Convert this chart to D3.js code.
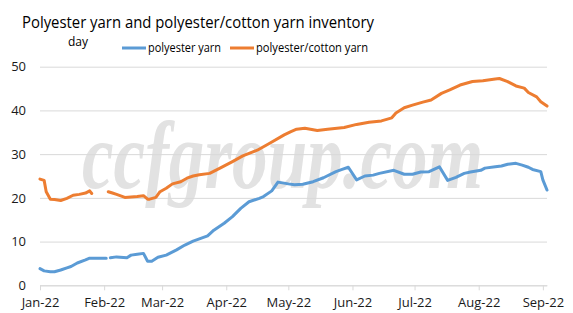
<!DOCTYPE html>
<html>
<head>
<meta charset="utf-8">
<script src="https://cdn.jsdelivr.net/npm/d3@7"></script>
<style>
  body { margin: 0; background: #fff; }
  text { font-family: "Open Sans", "Noto Sans", sans-serif; }
  text.watermark { font-family: "Liberation Serif", "DejaVu Serif", serif; font-style: italic; font-weight: bold; }
</style>
</head>
<body>
<div id="chart-area"></div>
<script>
// polyester yarn (days of inventory)
var polyDates = ["2022-01-01","2022-01-03","2022-01-06","2022-01-08","2022-01-11","2022-01-14","2022-01-16","2022-01-19",
	"2022-01-23","2022-01-25","2022-01-30","2022-02-02","2022-02-03","2022-02-04","2022-02-07","2022-02-12","2022-02-14",
	"2022-02-17","2022-02-20","2022-02-22","2022-02-24","2022-02-27","2022-03-03","2022-03-08","2022-03-12","2022-03-16",
	"2022-03-19","2022-03-23","2022-03-26","2022-03-31","2022-04-04","2022-04-08","2022-04-12","2022-04-17","2022-04-19",
	"2022-04-23","2022-04-26","2022-05-01","2022-05-04","2022-05-08","2022-05-13","2022-05-18","2022-05-24","2022-05-27",
	"2022-05-30","2022-06-03","2022-06-07","2022-06-11","2022-06-14","2022-06-21","2022-06-26","2022-06-30","2022-07-04",
	"2022-07-08","2022-07-13","2022-07-17","2022-07-21","2022-07-25","2022-07-28","2022-08-02","2022-08-04","2022-08-09",
	"2022-08-12","2022-08-15","2022-08-19","2022-08-22","2022-08-25","2022-08-27","2022-08-31","2022-09-01","2022-09-03"];
var polyValues = [3.8,3.3,3.1,3.1,3.5,4.0,4.3,5.1,
	5.8,6.2,6.2,6.2,null,6.3,6.5,6.3,6.9,
	7.1,7.3,5.5,5.5,6.4,6.9,8.1,9.2,10.1,
	10.6,11.3,12.6,14.2,15.7,17.6,19.1,19.9,20.3,
	21.6,23.6,23.2,23.0,23.1,23.7,24.6,26.0,26.5,
	27.0,24.1,25.0,25.2,25.6,26.3,25.4,25.4,25.9,
	26.0,27.1,24.0,24.7,25.6,25.9,26.3,26.8,27.1,
	27.3,27.7,27.9,27.5,27.0,26.5,26.0,24.1,21.8];

// polyester/cotton yarn (days of inventory)
var blendDates = ["2022-01-01","2022-01-03","2022-01-04","2022-01-06","2022-01-08","2022-01-11","2022-01-14","2022-01-17",
	"2022-01-20","2022-01-23","2022-01-25","2022-01-26","2022-01-30","2022-02-03","2022-02-05","2022-02-07","2022-02-11",
	"2022-02-14","2022-02-17","2022-02-20","2022-02-22","2022-02-23","2022-02-26","2022-02-28","2022-03-03","2022-03-06",
	"2022-03-10","2022-03-13","2022-03-16","2022-03-19","2022-03-24","2022-03-29","2022-04-04","2022-04-09","2022-04-16",
	"2022-04-22","2022-04-29","2022-05-02","2022-05-05","2022-05-09","2022-05-15","2022-05-20","2022-05-28","2022-06-03",
	"2022-06-09","2022-06-15","2022-06-20","2022-06-22","2022-06-26","2022-06-30","2022-07-05","2022-07-09","2022-07-14",
	"2022-07-18","2022-07-23","2022-07-29","2022-08-03","2022-08-09","2022-08-11","2022-08-15","2022-08-19","2022-08-23",
	"2022-08-25","2022-08-29","2022-08-31","2022-09-03"];
var blendValues = [24.3,24.0,21.4,19.7,19.6,19.4,19.9,20.6,
	20.8,21.1,21.6,21.0,null,21.4,21.1,20.8,20.1,
	20.2,20.3,20.5,19.7,19.7,20.1,21.4,22.2,23.2,
	23.7,24.5,25.0,25.3,25.6,26.8,28.3,29.6,30.9,
	32.5,34.4,35.1,35.7,35.9,35.4,35.7,36.1,36.8,
	37.3,37.6,38.3,39.4,40.6,41.2,41.9,42.4,43.9,
	44.7,45.8,46.6,46.8,47.2,47.3,46.6,45.6,45.1,
	44.1,43.1,42.0,41.0];

var yTicks = [0, 10, 20, 30, 40, 50];
var seriesNames = ["polyester yarn", "polyester/cotton yarn"];
var seriesColors = ["#5b9bd5", "#ed7d31"];

var parseDate = d3.timeParse("%Y-%m-%d");

var polyData = polyDates.map(function(d, i) { return {date: parseDate(d), value: polyValues[i]}; });
var blendData = blendDates.map(function(d, i) { return {date: parseDate(d), value: blendValues[i]}; });

var margin = {left:40, right:26, top:66.7, bottom:27.7};
var width = 573 - margin.left - margin.right,
	height = 313 - margin.top - margin.bottom;

var svg = d3.select("#chart-area")
	.append("svg")
		.attr("width", 573)
		.attr("height", 313);

svg.append("text")
	.attr("x", 22)
	.attr("y", 28)
	.attr("font-size", 17)
	.attr("fill", "#000")
	.attr("textLength", 352)
	.attr("lengthAdjust", "spacingAndGlyphs")
	.text("Polyester yarn and polyester/cotton yarn inventory");

svg.append("text")
	.attr("x", 68)
	.attr("y", 46)
	.attr("font-size", 12)
	.attr("fill", "#000")
	.text("day");

// legend
var legendX = [122, 230];
var legendW = [73, 112];
var legend = svg.selectAll(".legend")
	.data(seriesNames)
	.enter()
	.append("g")
		.attr("class", "legend")
		.attr("transform", function(d, i) { return "translate(" + legendX[i] + ",48)"; });

legend.append("line")
	.attr("x1", 0).attr("x2", 24)
	.attr("stroke", function(d, i) { return seriesColors[i]; })
	.attr("stroke-width", 3);

legend.append("text")
	.attr("x", 26)
	.attr("y", 4)
	.attr("font-size", 12)
	.attr("fill", "#000")
	.attr("textLength", function(d, i) { return legendW[i]; })
	.attr("lengthAdjust", "spacingAndGlyphs")
	.text(function(d) { return d; });

var g = svg.append("g")
	.attr("transform", "translate(" + margin.left + "," + margin.top + ")");

var x = d3.scaleTime()
	.domain([parseDate("2022-01-01"), parseDate("2022-09-03")])
	.range([0, width]);

var y = d3.scaleLinear()
	.domain([0, 50])
	.range([height, 0]);

// watermark
g.append("text")
	.attr("class", "watermark")
	.attr("x", 42)
	.attr("y", 121)
	.attr("font-size", 96)
	.attr("fill", "#e2e2e2")
	.attr("textLength", 401)
	.attr("lengthAdjust", "spacingAndGlyphs")
	.text("ccfgroup.com");

var yAxisCall = d3.axisLeft(y)
	.tickValues(yTicks)
	.tickSize(-width)
	.tickPadding(14);

var yAxis = g.append("g")
	.attr("class", "y-axis")
	.call(yAxisCall);
yAxis.select(".domain").remove();
yAxis.selectAll("line").attr("stroke", "#d9d9d9");
yAxis.selectAll("text")
	.attr("font-size", 13)
	.attr("fill", "#1a1a1a")
	.style("font-family", "'Open Sans', sans-serif");

var xAxisCall = d3.axisBottom(x)
	.ticks(d3.timeMonth.every(1))
	.tickFormat(d3.timeFormat("%b-%y"))
	.tickSize(5)
	.tickSizeOuter(0)
	.tickPadding(7);

var xAxis = g.append("g")
	.attr("class", "x-axis")
	.attr("transform", "translate(0," + height + ")")
	.call(xAxisCall);
xAxis.select(".domain").attr("stroke", "#d9d9d9");
xAxis.selectAll("line").attr("stroke", "#d9d9d9");
xAxis.selectAll("text")
	.attr("font-size", 13)
	.attr("fill", "#1a1a1a")
	.style("font-family", "'Open Sans', sans-serif");

var line = d3.line()
	.defined(function(d) { return d.value !== null; })
	.x(function(d) { return x(d.date); })
	.y(function(d) { return y(d.value); });

g.selectAll(".series")
	.data([polyData, blendData])
	.enter()
	.append("path")
		.attr("class", "series")
		.attr("d", line)
		.attr("fill", "none")
		.attr("stroke", function(d, i) { return seriesColors[i]; })
		.attr("stroke-width", 3)
		.attr("stroke-linejoin", "round")
		.attr("stroke-linecap", "round");
</script>
</body>
</html>
